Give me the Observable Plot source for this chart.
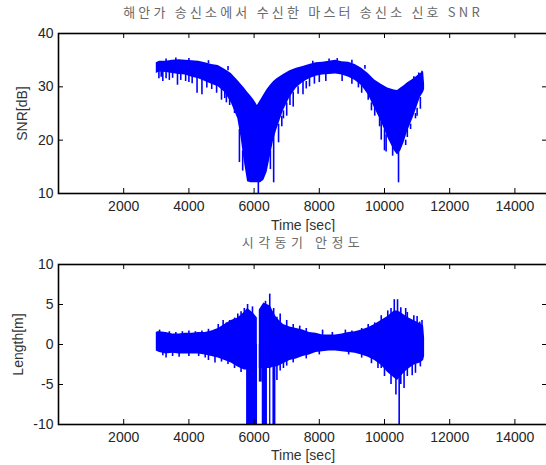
<!DOCTYPE html>
<html>
<head>
<meta charset="utf-8">
<script src="https://cdn.jsdelivr.net/npm/d3@7"></script>
<script src="https://cdn.jsdelivr.net/npm/@observablehq/plot@0.6"></script>
<style>
  html, body { margin: 0; padding: 0; background: #fff; overflow: hidden; }
  svg { display: block; }
</style>
</head>
<body>
<div id="chart"></div>
<script>
// ---- shared ticks ----
const xTicks = [2000, 4000, 6000, 8000, 10000, 12000, 14000];
const snrTicks = [10, 20, 30, 40];
const lenTicks = [-10, -5, 0, 5, 10];

// ---- panel 1: SNR envelope (dense noisy band) ----
const snrTime = [3000,3100,3300,3500,3700,3900,4100,4300,4500,4700,4900,5100,5300,5500,5600,5700,5800,5900,6000,6100,6200,6300,6400,6500,6600,6700,6900,7100,7300,7500,7700,7900,8100,8300,8500,8700,8900,9100,9300,9500,9700,9900,10100,10300,10400,10500,10600,10700,10900,11100,11200,11230];
const snrHigh = [34.5,34.8,34.8,35.0,35.1,35.0,34.9,34.8,34.5,34.2,34.0,33.3,32.5,31.2,30.5,29.8,29.0,28.3,27.5,26.5,27.5,28.5,29.5,30.3,31.0,31.5,32.3,33.0,33.5,33.8,34.2,34.5,34.6,34.8,35.0,34.7,34.6,34.2,33.5,32.5,31.3,30.5,29.8,29.4,29.3,29.8,30.2,30.7,31.5,32.5,32.8,30.5];
const snrLow  = [32.5,32.8,32.7,32.5,32.3,32.2,31.8,31.5,31.0,30.5,30.0,29.0,27.0,24.0,20.5,16.0,12.2,12.0,12.0,12.0,12.0,12.5,14.0,17.0,20.0,22.0,25.5,28.0,29.8,30.8,31.5,32.0,32.2,32.3,32.4,32.2,31.8,31.2,30.2,28.5,26.0,23.5,20.5,18.0,17.2,18.0,19.5,21.5,24.5,28.0,29.0,29.5];
// isolated spikes: time, far end, end inside band
const snrSpikeTime = [3080,3200,3400,3650,3900,4250,4400,4700,5000,5250,5400,5550,5650,6130,6500,6600,6750,7000,7200,7500,7700,8000,9200,9500,9700,9850,10000,10150,10430,10650,10800,11000,3600,8550,11150,
  3150,3300,3500,3750,4000,4100,4550,4850,5100,5150,3300,4000,4600,5200,7800,8300,9000,9400,10900,11050,
  6850,6900,7100,7350,7600,7850,8200,8700,9000,9300,9600,9900,10050,10250,10700,10950,11100];
const snrSpikeFar  = [31.5,31.0,31.2,30.3,31.0,28.8,28.5,29.5,27.5,26.5,25.0,15.8,14.2,9.8,14.5,12.0,19.5,24.5,26.2,28.5,30.0,30.8,29.8,27.5,24.5,22.5,18.0,20.0,12.0,19.0,22.0,24.5,35.4,35.3,32.9,
  31.8,31.5,31.6,31.2,30.8,30.6,29.8,28.8,27.8,27.0,35.2,35.3,34.9,33.8,34.8,35.2,35.0,34.0,31.9,32.6,
  22.5,24.0,26.5,28.6,29.6,30.5,31.0,31.0,30.5,28.8,25.5,20.0,17.8,17.0,20.5,24.0,25.8];
const snrSpikeNear = [33,33,33,33,33,32,32,31,30,28,26,22,18,13,18,21,23,27,29,31,32,32.5,31,29,26.5,25,22,21,18,20,23,26,34.5,34.5,32,
  33,33,33,32.5,32.5,32,31.5,30.5,29.5,29.5,34.5,34.5,34.3,33,34,34.5,34.3,33.3,31.3,32,
  24.5,25.5,28.5,30,31,32,32.5,32.5,32,30.5,27,24,21,19,22,25,28];

// ---- panel 2: time-sync stability (Length[m]) ----
const lenTime = [3000,3050,3100,3300,3500,3700,3900,4100,4300,4500,4700,4900,5100,5300,5500,5700,5800,5900,6000,6100,6130,6160,6300,6400,6500,6600,6700,6900,7100,7300,7500,7700,7900,8100,8300,8500,8700,8900,9100,9300,9500,9700,9900,10100,10300,10400,10500,10700,10900,11100,11200,11230];
const lenHigh = [1.5,1.6,1.6,1.5,1.3,1.3,1.4,1.4,1.5,1.5,1.7,2.0,2.5,3.0,3.3,4.0,4.5,4.2,3.8,3.3,NaN,4.3,5.2,5.0,4.8,4.0,3.3,2.5,2.2,2.0,1.8,1.5,1.4,1.2,1.2,1.2,1.3,1.5,1.6,1.8,2.1,2.5,3.0,3.5,4.2,4.2,4.0,3.4,3.0,2.6,2.3,0.8];
const lenLow  = [-0.8,-0.9,-1.0,-1.2,-1.1,-1.2,-1.2,-1.2,-1.2,-1.3,-1.5,-1.7,-2.0,-2.3,-2.8,-3.2,-3.2,-3.2,-3.0,-3.0,NaN,-3.0,-3.0,-3.0,-3.0,-2.8,-2.8,-2.4,-2.0,-1.8,-1.5,-1.3,-1.0,-0.9,-0.8,-0.8,-0.9,-1.0,-1.1,-1.3,-1.6,-2.0,-2.6,-3.5,-4.2,-4.5,-4.0,-3.2,-2.6,-2.3,-2.0,-1.5];
const lenSpikeTime = [5250,5400,5600,5700,5800,5950,6350,6480,6420,6700,7200,8100,8800,9700,10050,10300,10400,10500,10650,10900,11080,3300,4800,5200,6700,6900,9800,10200,10350,10450,10600,10850,
  3100,3400,3600,3800,4000,4200,4400,4600,4900,5050,5150,5500,6600,6800,7000,7400,7600,8400,9000,9300,9500,9900,10100,10200,10700,11000,11150,
  3200,3500,3700,4000,4300,4500,4600,5000,5400,5600,6800,7000,7200,7600,8000,8900,9300,9600,9900,10000,10500,10700,10950,11100];
const lenSpikeFar  = [3.0,3.3,4.1,4.5,5.0,4.7,5.4,6.3,4.3,3.4,2.5,1.8,1.8,2.7,3.2,5.6,5.6,4.6,4.5,3.6,2.8,-1.7,-2.3,-2.5,-4.5,-3.0,-3.0,-5.0,-6.3,-10,-5.5,-3.9,
  1.8,1.6,1.5,1.6,1.7,1.6,1.7,1.9,2.5,3.0,2.7,3.8,4.5,3.8,3.0,2.3,2.0,1.5,1.7,2.0,2.5,3.6,4.2,4.5,4.0,3.5,3.0,
  -1.4,-1.5,-1.6,-1.5,-1.5,-1.7,-2.0,-2.2,-3.0,-3.5,-3.3,-2.7,-2.3,-1.8,-1.3,-1.3,-1.7,-2.4,-3.0,-4.0,-5.0,-4.0,-3.6,-2.8];
const lenSpikeNear = [2,2,3,3,3,3,3,3,3,2,1,0,0,1,2,3,3,3,3,2,1,-1,-1,-1.5,-2,-2,-2,-3,-3,-3,-3,-2,
  1,1,1,1,1,1,1,1,1.5,2,2,3,3,2.5,2,1.5,1.2,1,1.2,1.5,1.8,2.5,3,3.5,3,2.5,2,
  -1,-1,-1,-1,-1,-1,-1.2,-1.5,-2,-2.5,-2.5,-2,-1.7,-1.3,-0.8,-0.8,-1.1,-1.5,-2.2,-3,-3.5,-3,-2.5,-2];
// signal drop-outs reaching the bottom of the axes
const dropStart = [5770,6160,6250,6475,6577];
const dropEnd   = [6105,6250,6410,6515,6669];
const dropFloor = [-10,-4.7,-10,-10,-10];

const blue = "#0000ff";
const rows = (t, a, b) => t.map((d, i) => ({t: d, a: a[i], b: b[i]}));

function panel({height, marginTop, marginBottom, yDomain, yTicks, band, spikes, drops, yLabel, labelDx, title, titleDy, titleSpacing, xLabelDy}) {
  const plotH = height - marginTop - marginBottom;
  const plotW = 546 - 58 + 1;
  const chart = Plot.plot({
    width: 546, height,
    marginLeft: 58, marginRight: -1, marginTop, marginBottom,
    style: {fontFamily: "'Liberation Sans', Arial, sans-serif", fontSize: "14px", color: "#262626", background: "#fff"},
    x: {domain: [0, 15000]},
    y: {domain: yDomain},
    marks: [
      Plot.areaY(band, {x: "t", y1: "b", y2: "a", fill: blue, clip: true}),
      Plot.ruleX(spikes, {x: "t", y1: "a", y2: "b", stroke: blue, strokeWidth: 1.6, clip: true}),
      drops ? Plot.rect(drops, {x1: "t1", x2: "t2", y1: "lo", y2: "hi", fill: blue, clip: true}) : null,
      Plot.frame({stroke: "#000", strokeWidth: 1.6}),
      Plot.ruleX(xTicks, {stroke: "#000", strokeWidth: 1, insetTop: plotH - 5}),
      Plot.ruleX(xTicks, {stroke: "#000", strokeWidth: 1, insetBottom: plotH - 5}),
      Plot.ruleY(yTicks, {stroke: "#000", strokeWidth: 1, insetRight: plotW - 5}),
      Plot.ruleY(yTicks, {stroke: "#000", strokeWidth: 1, insetLeft: plotW - 5}),
      Plot.axisX({ticks: xTicks, tickSize: 0, tickPadding: 8, tickFormat: d => String(d), label: null, fontSize: 14}),
      Plot.axisY({ticks: yTicks, tickSize: 0, tickPadding: 5, tickFormat: d => String(d), label: null, fontSize: 14}),
      Plot.text([yLabel], {frameAnchor: "left", dx: labelDx, rotate: -90, textAnchor: "middle", lineAnchor: "middle", fontSize: 14, fill: "#333"}),
      Plot.text(["Time [sec]"], {frameAnchor: "bottom", dy: xLabelDy, textAnchor: "middle", lineAnchor: "middle", fontSize: 14, fill: "#333"}),
      Plot.text([title], {frameAnchor: "top", dy: titleDy, lineAnchor: "middle", fontSize: 13, fill: "#6a6a6a",
        fontFamily: "'Noto Sans CJK KR', 'Noto Sans', sans-serif"})
    ]
  });
  d3.select(chart).selectAll("text").filter(function() { return this.textContent === title; })
    .attr("letter-spacing", titleSpacing);
  return chart;
}

const p1 = panel({
  height: 232, marginTop: 33, marginBottom: 39,
  yDomain: [10, 40], yTicks: snrTicks,
  band: rows(snrTime, snrHigh, snrLow),
  spikes: rows(snrSpikeTime, snrSpikeFar, snrSpikeNear),
  drops: null,
  yLabel: "SNR[dB]", labelDx: -36,
  title: "해안가 송신소에서 수신한 마스터 송신소 신호 SNR", titleDy: -21, titleSpacing: 3.2,
  xLabelDy: 32
});

const p2 = panel({
  height: 233, marginTop: 32, marginBottom: 41,
  yDomain: [-10, 10], yTicks: lenTicks,
  band: rows(lenTime, lenHigh, lenLow),
  spikes: rows(lenSpikeTime, lenSpikeFar, lenSpikeNear),
  drops: dropStart.map((d, i) => ({t1: d, t2: dropEnd[i], lo: dropFloor[i], hi: 0})),
  yLabel: "Length[m]", labelDx: -40,
  title: "시각동기 안정도", titleDy: -22, titleSpacing: 4.5,
  xLabelDy: 31
});

document.getElementById("chart").append(p1, p2);
</script>
</body>
</html>
